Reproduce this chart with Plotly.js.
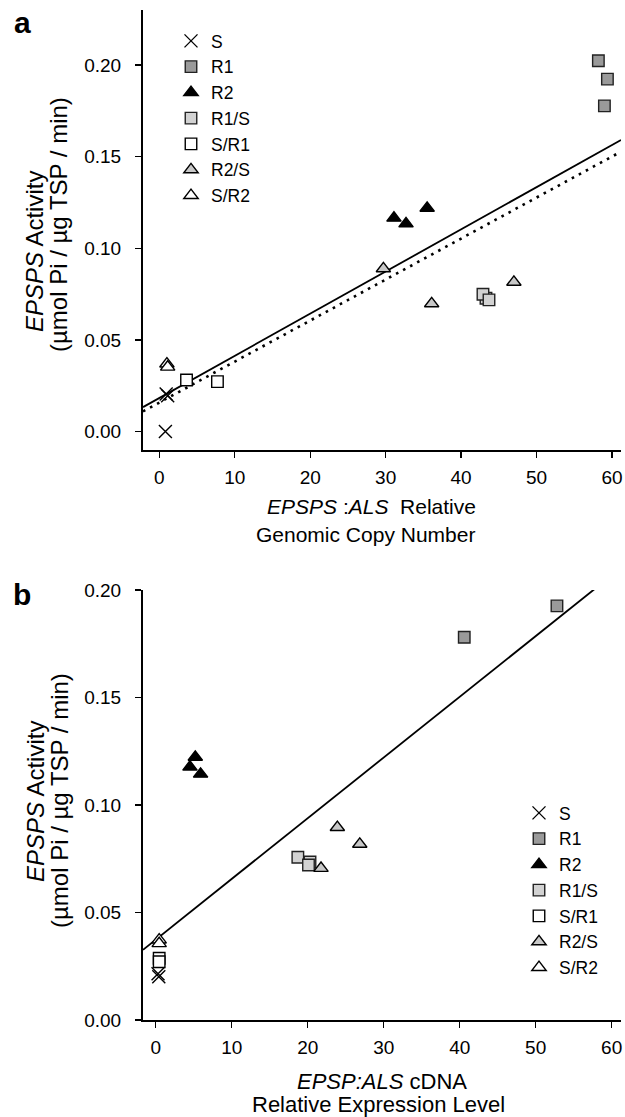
<!DOCTYPE html>
<html><head><meta charset="utf-8">
<script src="https://cdn.plot.ly/plotly-3.0.1.min.js"></script>
<style>html,body{margin:0;padding:0;background:#fff}</style>
</head><body><div id="chart" style="width:625px;height:1117px"></div>
<script>
// ---------- DATA ----------
const seriesNames = ['S', 'R1', 'R2', 'R1/S', 'S/R1', 'R2/S', 'S/R2'];

// Panel a: EPSPS:ALS genomic copy number vs EPSPS activity
const copyS    = [0.9, 1.1, 0.8];
const actA_S   = [0.0205, 0.0195, 0.0];
const copyR1   = [58.2, 59.4, 59.0];
const actA_R1  = [0.2023, 0.1923, 0.1777];
const copyR2   = [31.1, 32.7, 35.5];
const actA_R2  = [0.1165, 0.1134, 0.1219];
const copyR1S  = [43.3, 42.9, 43.7];
const actA_R1S = [0.0727, 0.0749, 0.0718];
const copySR1  = [3.6, 7.7];
const actA_SR1 = [0.0281, 0.0272];
const copyR2S  = [29.7, 36.1, 47.0];
const actA_R2S = [0.0889, 0.0698, 0.0815];
const copySR2  = [1.0, 1.1];
const actA_SR2 = [0.0369, 0.0352];

// Panel b: EPSP:ALS cDNA relative expression vs EPSPS activity
const exprS    = [0.3, 0.4];
const actB_S   = [0.0215, 0.0201];
const exprR1   = [40.6, 52.8];
const actB_R1  = [0.178, 0.1926];
const exprR2   = [5.2, 4.5, 5.9];
const actB_R2  = [0.1223, 0.1177, 0.1144];
const exprR1S  = [18.7, 20.3, 20.1];
const actB_R1S = [0.0757, 0.0735, 0.0721];
const exprSR1  = [0.45, 0.45];
const actB_SR1 = [0.0287, 0.0271];
const exprR2S  = [23.9, 26.85, 21.75];
const actB_R2S = [0.0896, 0.0818, 0.0706];
const exprSR2  = [0.45, 0.45];
const actB_SR2 = [0.0373, 0.0356];

// Regression lines: [intercept, slope]
const fitA_solid  = [0.0183, 0.00230];
const fitA_dotted = [0.0158, 0.002237];
const fitB        = [0.0374, 0.002823];

// ---------- STYLE ----------
const FONT = 'Liberation Sans, Arial, Helvetica, sans-serif';
const styles = {
  'S':    {symbol: 'x-thin-open', size: 13, color: '#000', line: {color: '#000', width: 1.4}},
  'R1':   {symbol: 'square', size: 11.5, color: '#9a9a9a', line: {color: '#222', width: 1.4}},
  'R2':   {symbol: 'triangle-up', size: 12.5, color: '#000', line: {color: '#000', width: 1.4}},
  'R1/S': {symbol: 'square', size: 11.5, color: '#d2d2d2', line: {color: '#222', width: 1.4}},
  'S/R1': {symbol: 'square', size: 11.5, color: '#fff', line: {color: '#000', width: 1.4}},
  'R2/S': {symbol: 'triangle-up', size: 12.5, color: '#c8c8c8', line: {color: '#000', width: 1.4}},
  'S/R2': {symbol: 'triangle-up', size: 12.5, color: '#fff', line: {color: '#000', width: 1.4}}
};

const xRangeA = [-2.17, 61.2], yRangeA = [-0.0101, 0.2300];
const xRangeB = [-1.68, 61.23], yRangeB = [0, 0.2];

const aData = [[copyS, actA_S], [copyR1, actA_R1], [copyR2, actA_R2], [copyR1S, actA_R1S],
               [copySR1, actA_SR1], [copyR2S, actA_R2S], [copySR2, actA_SR2]];
const bData = [[exprS, actB_S], [exprR1, actB_R1], [exprR2, actB_R2], [exprR1S, actB_R1S],
               [exprSR1, actB_SR1], [exprR2S, actB_R2S], [exprSR2, actB_SR2]];

const traces = [];
function lineTrace(fit, xr, xa, ya, dash) {
  return {x: xr, y: xr.map(v => fit[0] + fit[1] * v), xaxis: xa, yaxis: ya, mode: 'lines',
    line: {color: '#000', width: dash ? 2.6 : 1.8, dash: dash || 'solid'}, showlegend: false, hoverinfo: 'skip'};
}
traces.push(lineTrace(fitA_solid, xRangeA, 'x', 'y'));
traces.push(lineTrace(fitA_dotted, xRangeA, 'x', 'y', '2.6px,5.4px'));
traces.push(lineTrace(fitB, xRangeB, 'x2', 'y2'));

seriesNames.forEach((n, i) => {
  traces.push({x: aData[i][0], y: aData[i][1], name: n, xaxis: 'x', yaxis: 'y', mode: 'markers',
    marker: styles[n], cliponaxis: false, legend: 'legend'});
});
seriesNames.forEach((n, i) => {
  traces.push({x: bData[i][0], y: bData[i][1], name: n, xaxis: 'x2', yaxis: 'y2', mode: 'markers',
    marker: styles[n], cliponaxis: false, legend: 'legend2'});
});

const W = 625, H = 1117;
const px = v => v / W, py = v => 1 - v / H;

function xax(range) {
  return {range: range, domain: [px(143), px(621)], showline: true, linewidth: 2, linecolor: '#000',
    ticks: 'outside', ticklen: 6, tickwidth: 1.3, tickcolor: '#000', dtick: 10, tick0: 0,
    showgrid: false, zeroline: false, tickfont: {family: FONT, size: 19, color: '#000'},
    ticklabelstandoff: 3, fixedrange: true};
}
function yax(range, top, bot) {
  return {range: range, domain: [py(bot), py(top)], showline: true, linewidth: 2, linecolor: '#000',
    ticks: 'outside', ticklen: 6, tickwidth: 1.3, tickcolor: '#000', dtick: 0.05, tick0: 0,
    tickformat: '.2f', showgrid: false, zeroline: false, tickfont: {family: FONT, size: 19, color: '#000'},
    ticklabelstandoff: 10, fixedrange: true};
}

const ann = [];
function txt(text, x, y, size, opts) {
  ann.push(Object.assign({text: text, x: px(x), y: py(y), xref: 'paper', yref: 'paper', showarrow: false,
    xanchor: 'center', yanchor: 'middle', font: {family: FONT, size: size, color: '#000'}}, opts || {}));
}
txt('<b>a</b>', 22, 22, 30);
txt('<b>b</b>', 22, 594, 30);
txt('<i>EPSPS</i> Activity', 35, 252, 24, {textangle: -90});
txt('(\u00b5mol Pi / \u00b5g TSP / min)', 59, 225, 24, {textangle: -90});
txt('<i>EPSPS</i> Activity', 35, 802, 24, {textangle: -90});
txt('(\u00b5mol Pi / \u00b5g TSP / min)', 59, 801, 24, {textangle: -90});
txt('<i>EPSPS</i> :<i>ALS</i>  Relative', 371, 507, 21);
txt('Genomic Copy Number', 365, 534, 21);
txt('<i>EPSP:ALS</i> cDNA', 382, 1081, 22);
txt('Relative Expression Level', 378, 1104, 22);

const legendBase = {xanchor: 'left', yanchor: 'top', bgcolor: 'rgba(0,0,0,0)', borderwidth: 0,
  font: {family: FONT, size: 17.5, color: '#000'}, tracegroupgap: 0, itemclick: false, itemdoubleclick: false};

const layout = {
  width: W, height: H, margin: {l: 0, r: 0, t: 0, b: 0}, paper_bgcolor: '#fff', plot_bgcolor: '#fff',
  xaxis: Object.assign(xax(xRangeA), {anchor: 'y'}),
  yaxis: Object.assign(yax(yRangeA, 10, 450), {anchor: 'x'}),
  xaxis2: Object.assign(xax(xRangeB), {anchor: 'y2'}),
  yaxis2: Object.assign(yax(yRangeB, 590, 1020), {anchor: 'x2'}),
  legend: Object.assign({}, legendBase, {x: px(171), y: py(23)}),
  legend2: Object.assign({}, legendBase, {x: px(519), y: py(795)}),
  annotations: ann,
  showlegend: true
};

Plotly.newPlot('chart', traces, layout, {displayModeBar: false, staticPlot: true});
</script>
</body></html>
